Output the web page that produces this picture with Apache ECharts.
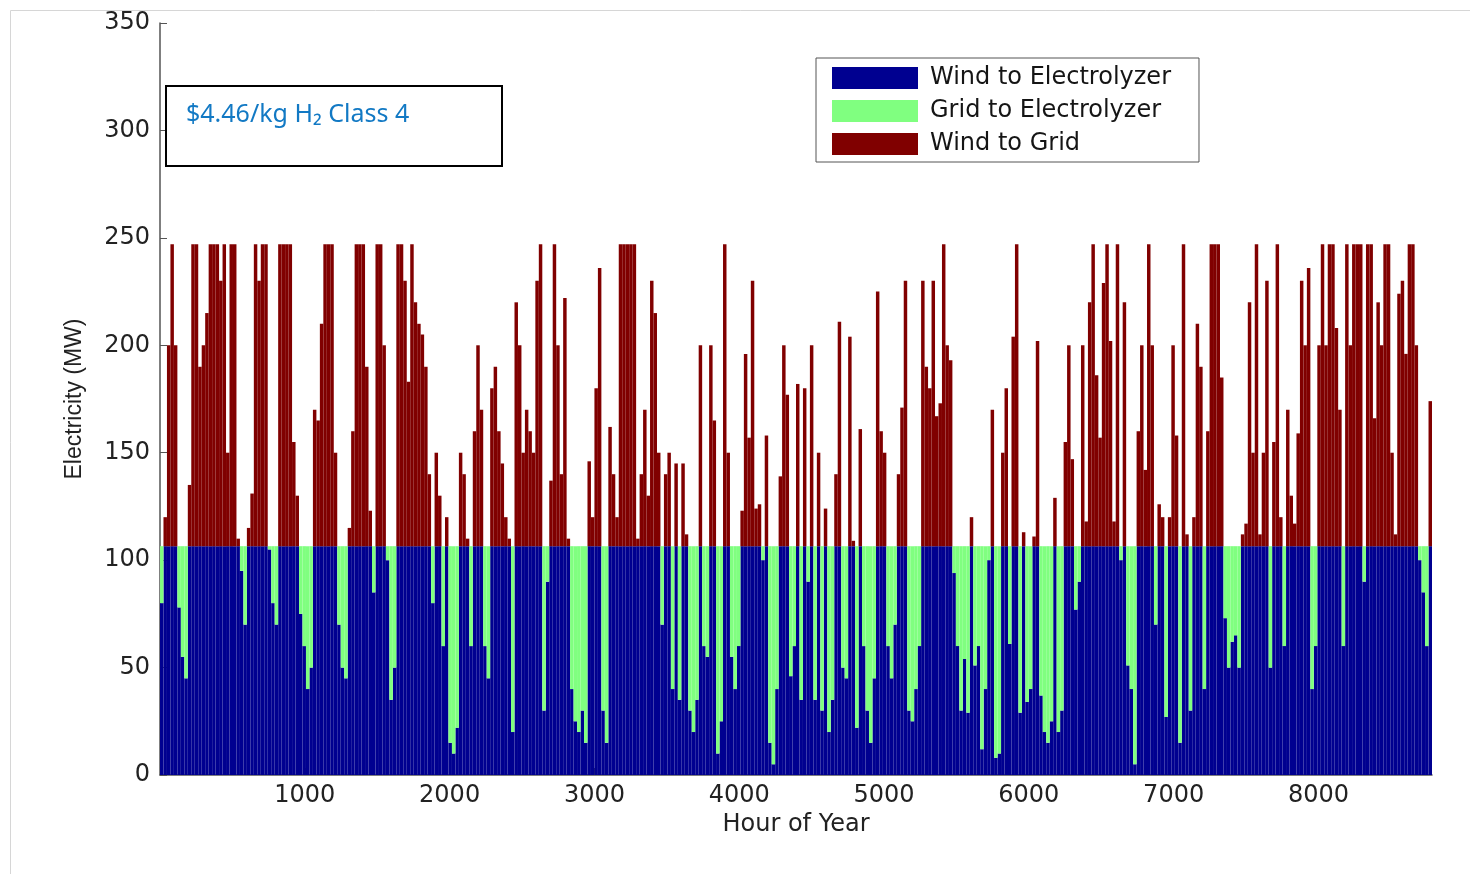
<!DOCTYPE html>
<html>
<head>
<meta charset="utf-8">
<script src="https://cdn.jsdelivr.net/npm/echarts@6.0.0/dist/echarts.min.js"></script>
<style>
html,body{margin:0;padding:0;background:#fff;}
#chart{width:1470px;height:874px;}
</style>
</head>
<body>
<div id="chart"></div>
<script>
// ---- data ----
// electrolyzer size (MW): top of the green band
const electrolyzerCapacity = 106.5;
// hours covered by each bar (one bar per day)
const binHours = 24;
// total wind output (MW) per day
const windPower = [
  80,120,200,247,200,78,55,45,135,247,247,190,200,215,247,247,247,230,247,150,
  247,247,110,95,70,115,131,247,230,247,247,105,80,70,247,247,247,247,155,130,
  75,60,40,50,170,165,
  210,247,247,247,150,70,50,45,115,160,247,247,247,190,123,85,247,247,200,100,
  35,50,247,247,230,183,247,220,210,205,190,140,80,150,130,60,120,15,10,22,
  150,140,110,60,160,200,
  170,60,45,180,190,160,145,120,110,20,220,200,150,170,160,150,230,247,30,90,
  137,247,200,140,222,110,40,25,20,30,15,146,120,180,236,30,15,162,140,120,
  247,247,247,247,247,110,
  140,170,130,230,215,150,70,140,150,40,145,35,145,112,30,20,35,200,60,55,
  200,165,10,25,247,150,55,40,60,123,196,157,230,124,126,100,158,15,5,40,
  139,200,177,46,60,182,
  35,180,90,200,35,150,30,124,20,35,140,211,50,45,204,109,22,161,60,30,
  15,45,225,160,150,60,45,70,140,171,230,30,25,40,60,230,190,180,230,167,
  173,247,200,193,94,60,
  30,54,29,120,51,60,12,40,100,170,8,10,150,180,61,204,247,29,113,34,
  40,111,202,37,20,15,25,129,20,30,155,200,147,77,90,200,118,220,247,186,
  157,229,247,202,118,247,
  100,220,51,40,5,160,200,142,247,200,70,126,120,27,120,200,158,15,247,112,
  30,120,210,190,40,160,247,247,247,185,73,50,62,65,50,112,117,220,150,247,
  112,150,230,50,155,247,
  120,60,170,130,117,159,230,200,236,40,60,200,247,200,247,247,208,170,60,247,
  200,247,247,247,90,247,247,166,220,200,247,247,150,112,224,230,196,247,247,200,
  100,85,60,174
];
const seriesNames = ['Wind to Electrolyzer', 'Grid to Electrolyzer', 'Wind to Grid'];
const seriesColors = ['#000090', '#80FF80', '#800000'];
const hourTickStep = 1000;
const yTickStep = 50;

// ---- derived stacks ----
const hourBins = windPower.map((_, i) => i * binHours);
const windToElectrolyzer = windPower.map(w => Math.min(w, electrolyzerCapacity));
const gridToElectrolyzer = windPower.map(w => electrolyzerCapacity - Math.min(w, electrolyzerCapacity));
const windToGrid = windPower.map(w => Math.max(w - electrolyzerCapacity, 0));
const stacks = [windToElectrolyzer, gridToElectrolyzer, windToGrid];

const chart = echarts.init(document.getElementById('chart'), null, {renderer: 'canvas'});

const option = {
  animation: false,
  backgroundColor: '#ffffff',
  grid: {left: 160, right: 38, top: 23, bottom: 99},
  legend: {
    data: seriesNames,
    orient: 'vertical',
    left: 816,
    top: 58,
    itemWidth: 86,
    itemHeight: 22,
    itemGap: 9,
    icon: 'rect',
    padding: [8, 28, 6, 16],
    borderColor: '#555',
    borderWidth: 1,
    backgroundColor: '#fff',
    selectedMode: false,
    textStyle: {fontFamily: 'DejaVu Sans', fontSize: 24, color: '#151515', padding: [0, 0, 0, 7]}
  },
  xAxis: [
    {type: 'category', data: hourBins, show: false, boundaryGap: true},
    {
      type: 'value', min: 0, max: binHours * windPower.length, interval: hourTickStep,
      position: 'bottom',
      name: 'Hour of Year', nameLocation: 'middle', nameGap: 35,
      nameTextStyle: {fontFamily: 'DejaVu Sans', fontSize: 24, color: '#222'},
      axisLine: {show: true, lineStyle: {color: '#555', width: 1.5}},
      axisTick: {show: true, inside: true, length: 7, lineStyle: {color: '#555'}},
      axisLabel: {showMinLabel: false, showMaxLabel: false, fontFamily: 'DejaVu Sans', fontSize: 24, color: '#222', margin: 9,
                  formatter: v => String(v)},
      splitLine: {show: false}
    }
  ],
  yAxis: {
    type: 'value', min: 0, max: 350, interval: yTickStep,
    name: 'Electricity (MW)', nameLocation: 'middle', nameGap: 74, nameRotate: 90,
    nameTextStyle: {fontFamily: 'Liberation Sans', fontSize: 23, color: '#222'},
    axisLine: {show: true, lineStyle: {color: '#555', width: 1.5}},
    axisTick: {show: true, inside: true, length: 7, lineStyle: {color: '#555'}},
    axisLabel: {fontFamily: 'DejaVu Sans', fontSize: 24, color: '#222', margin: 10, formatter: v => String(v)},
    splitLine: {show: false}
  },
  graphic: [
    {type: 'rect', z: -10, silent: true, shape: {x: 10.5, y: 10.5, width: 1500, height: 900},
     style: {fill: 'none', stroke: '#d6d6d6', lineWidth: 1}},
    {type: 'rect', z: 100, silent: true, shape: {x: 166, y: 86, width: 336, height: 80},
     style: {fill: '#fff', stroke: '#000', lineWidth: 2}},
    {type: 'text', z: 101, silent: true, left: 186, top: 102,
     style: {text: '$4.46/kg H\u2082 Class 4', fontFamily: 'Noto Sans', fontSize: 25, fill: '#1279C4'}}
  ],
  series: stacks.map((data, k) => ({
    name: seriesNames[k],
    type: 'bar',
    stack: 'power',
    xAxisIndex: 0,
    yAxisIndex: 0,
    barCategoryGap: '0%',
    barGap: '0%',
    silent: true,
    itemStyle: {color: seriesColors[k], borderWidth: 0},
    data: data
  }))
};
chart.setOption(option);
</script>
</body>
</html>
